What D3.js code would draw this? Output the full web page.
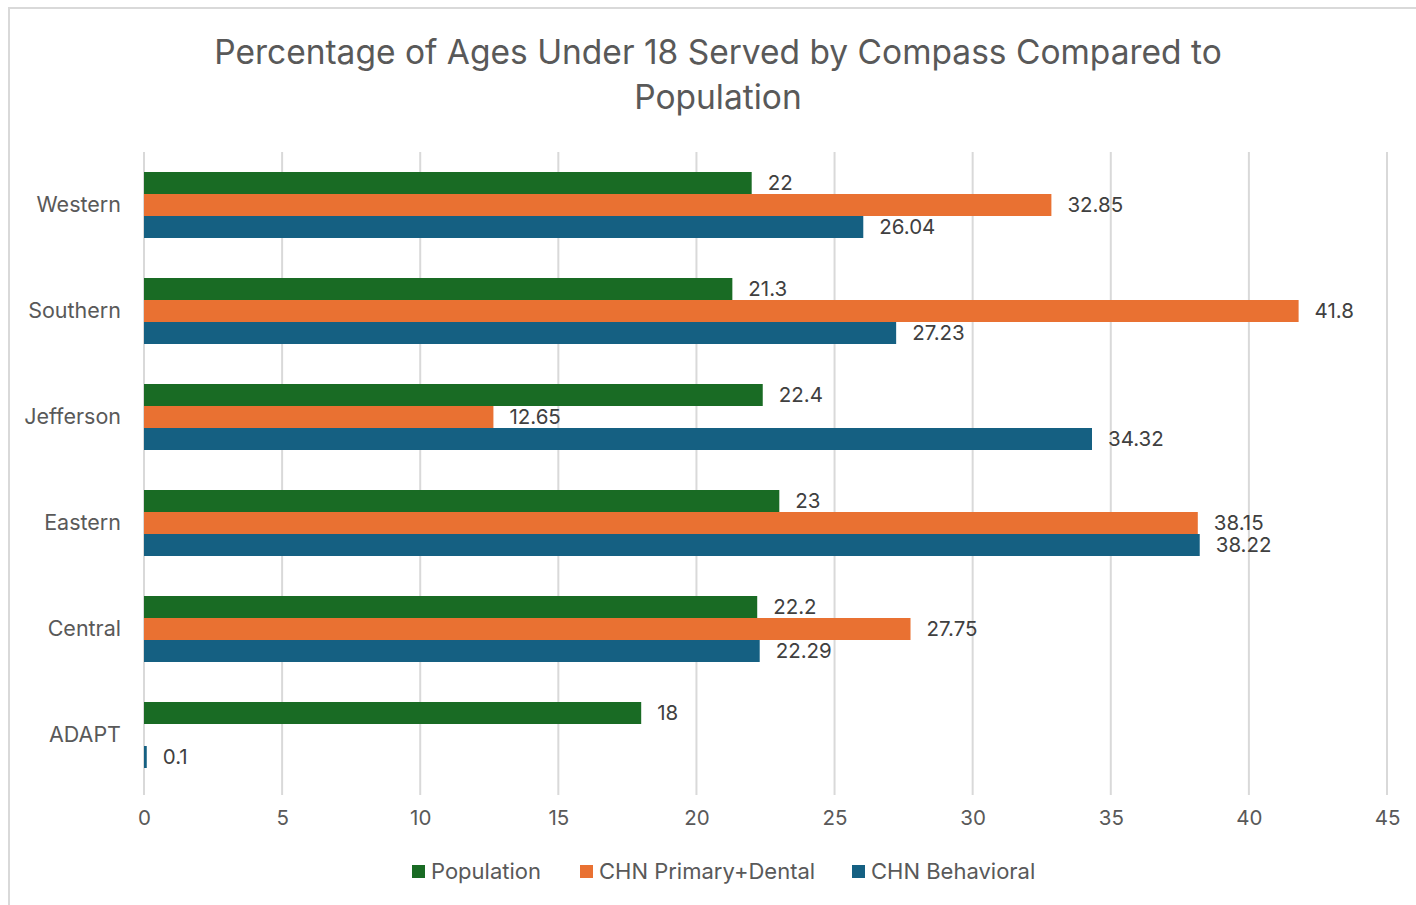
<!DOCTYPE html>
<html>
<head>
<meta charset="utf-8">
<script src="https://cdn.jsdelivr.net/npm/d3@7"></script>
<style>
  html, body { margin: 0; padding: 0; background: #ffffff; }
  svg { display: block; }
  text { font-family: Inter, "Open Sans", sans-serif; }
</style>
</head>
<body>
<svg id="chart" width="1416" height="905"></svg>
<script>
// Regions (top to bottom) and the three series, in percent
const categories = ["Western", "Southern", "Jefferson", "Eastern", "Central", "ADAPT"];
const population = [22, 21.3, 22.4, 23, 22.2, 18];
const chnPrimaryDental = [32.85, 41.8, 12.65, 38.15, 27.75, null];
const chnBehavioral = [26.04, 27.23, 34.32, 38.22, 22.29, 0.1];
const xTicks = [0, 5, 10, 15, 20, 25, 30, 35, 40, 45];

const seriesNames = ["Population", "CHN Primary+Dental", "CHN Behavioral"];
const seriesColors = ["#196B24", "#E97132", "#156082"];
const seriesValues = [population, chnPrimaryDental, chnBehavioral];

const titleLines = ["Percentage of Ages Under 18 Served by Compass Compared to", "Population"];

const FONT = "Inter, 'Open Sans', sans-serif";
const svg = d3.select("#chart");
const W = 1416, H = 905;

// chart frame
svg.append("rect")
  .attr("x", 9).attr("y", 8)
  .attr("width", W + 10).attr("height", H + 10)
  .attr("fill", "#ffffff")
  .attr("stroke", "#d9d9d9").attr("stroke-width", 2);

const plot = { left: 144, right: 1387, top: 152, bottom: 788 };

const x = d3.scaleLinear().domain([0, 45]).range([plot.left, plot.right]);
const pad = 40 / 106;
const y = d3.scaleBand().domain(categories)
  .range([plot.top, plot.bottom])
  .paddingInner(pad).paddingOuter(pad / 2);
const ySub = d3.scaleBand().domain(seriesNames).range([0, y.bandwidth()]);

// title
svg.append("g").selectAll("text").data(titleLines).join("text")
  .attr("x", 718).attr("y", (d, i) => 64 + i * 45)
  .attr("text-anchor", "middle")
  .attr("font-size", 33.5)
  .attr("fill", "#595959")
  .text(d => d);

// vertical gridlines
svg.append("g").selectAll("line").data(xTicks).join("line")
  .attr("x1", d => x(d)).attr("x2", d => x(d))
  .attr("y1", plot.top).attr("y2", plot.bottom + 7)
  .attr("stroke", "#d9d9d9").attr("stroke-width", 2);

// x axis labels
const xAxis = d3.axisBottom(x).tickValues(xTicks).tickSize(0).tickPadding(0);
const gx = svg.append("g")
  .attr("transform", `translate(0, ${plot.bottom + 22})`)
  .call(xAxis);
gx.select(".domain").remove();
gx.selectAll("text")
  .attr("font-size", 20.5).attr("fill", "#595959")
  .attr("font-family", FONT)
  .attr("dy", "0.71em");

// category labels
const yAxis = d3.axisLeft(y).tickSize(0).tickPadding(0);
const gy = svg.append("g")
  .attr("transform", `translate(${plot.left - 23}, 0)`)
  .call(yAxis);
gy.select(".domain").remove();
gy.selectAll("text")
  .attr("font-size", 21.5).attr("fill", "#595959")
  .attr("font-family", FONT);

// bars and value labels
seriesNames.forEach((name, si) => {
  const vals = categories.map((c, ci) => ({ c, v: seriesValues[si][ci] }))
    .filter(d => d.v !== null);
  const g = svg.append("g");
  g.selectAll("rect").data(vals).join("rect")
    .attr("x", x(0))
    .attr("y", d => y(d.c) + ySub(name))
    .attr("width", d => Math.max(2, x(d.v) - x(0)))
    .attr("height", ySub.bandwidth())
    .attr("fill", seriesColors[si]);
  g.selectAll("text").data(vals).join("text")
    .attr("x", d => Math.max(x(d.v), x(0) + 2) + 16)
    .attr("y", d => y(d.c) + ySub(name) + ySub.bandwidth() / 2)
    .attr("dy", "0.36em")
    .attr("font-size", 20.5)
    .attr("fill", "#404040")
    .text(d => d.v);
});

// legend
const legendItems = [
  { name: seriesNames[0], color: seriesColors[0], x: 412 },
  { name: seriesNames[1], color: seriesColors[1], x: 580 },
  { name: seriesNames[2], color: seriesColors[2], x: 852 }
];
const lg = svg.append("g").selectAll("g").data(legendItems).join("g")
  .attr("transform", d => `translate(${d.x}, 865)`);
lg.append("rect").attr("width", 13).attr("height", 13).attr("fill", d => d.color);
lg.append("text")
  .attr("x", 19).attr("y", 6.5).attr("dy", "0.36em")
  .attr("font-size", 22).attr("fill", "#595959")
  .text(d => d.name);
</script>
</body>
</html>
